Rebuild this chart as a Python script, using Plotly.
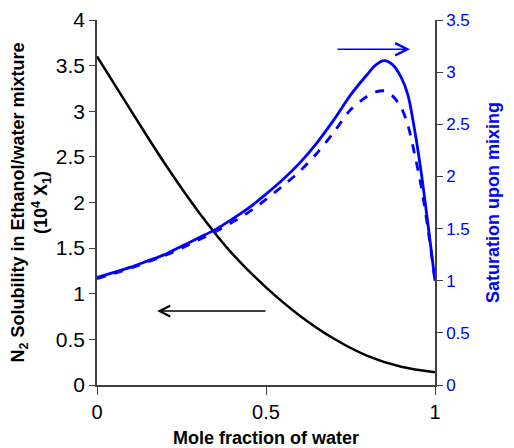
import plotly.graph_objects as go

# mole fraction of water
x_n2 = [0.0, 0.1, 0.2, 0.3, 0.4, 0.5, 0.6, 0.7, 0.8, 0.9, 1.0]
# N2 solubility (10^4 X1), left axis
n2_solubility = [3.60, 3.01, 2.43, 1.90, 1.44, 1.07, 0.76, 0.51, 0.32, 0.20, 0.14]

x_sat = [0.0, 0.05, 0.1, 0.15, 0.2, 0.25, 0.3, 0.35, 0.4, 0.45, 0.5, 0.55,
         0.6, 0.65, 0.7, 0.75, 0.8, 0.825, 0.85, 0.875, 0.9, 0.92, 0.94,
         0.96, 0.98, 1.0]
# saturation upon mixing, right axis
sat_solid = [1.03, 1.08, 1.13, 1.19, 1.25, 1.33, 1.41, 1.49, 1.59, 1.70,
             1.83, 1.97, 2.13, 2.32, 2.54, 2.78, 2.98, 3.07, 3.11, 3.07,
             2.95, 2.78, 2.44, 2.02, 1.52, 1.0]
sat_dashed = [1.02, 1.07, 1.12, 1.18, 1.24, 1.31, 1.39, 1.47, 1.56, 1.66,
              1.78, 1.91, 2.05, 2.22, 2.42, 2.64, 2.77, 2.81, 2.82, 2.77,
              2.66, 2.49, 2.21, 1.89, 1.48, 1.0]

BLUE = "#0000ff"
AXIS = "#404040"
FONT = "Liberation Sans, Arial, sans-serif"

fig = go.Figure()
fig.add_trace(go.Scatter(
    x=x_n2, y=n2_solubility, mode="lines",
    line=dict(color="black", width=2.5, shape="spline", smoothing=1.0),
))
fig.add_trace(go.Scatter(
    x=x_sat, y=sat_solid, mode="lines", yaxis="y2",
    line=dict(color=BLUE, width=2.8, shape="spline", smoothing=0.8),
))
fig.add_trace(go.Scatter(
    x=x_sat, y=sat_dashed, mode="lines", yaxis="y2",
    line=dict(color=BLUE, width=2.8, dash="dash", shape="spline", smoothing=0.8),
))

# direction arrows
fig.add_annotation(
    x=0.178, y=0.81, ax=0.503, ay=0.81, xref="x", yref="y", axref="x", ayref="y",
    text="", showarrow=True, arrowhead=5, arrowsize=1.4, arrowwidth=1.5,
    arrowcolor="black",
)
fig.add_annotation(
    x=0.926, y=3.22, ax=0.707, ay=3.22, xref="x", yref="y2", axref="x", ayref="y2",
    text="", showarrow=True, arrowhead=5, arrowsize=1.6, arrowwidth=1.5,
    arrowcolor=BLUE,
)

# the page body adds an 8 px offset, so the figure is 8 px smaller
fig.update_layout(
    width=506, height=440,
    margin=dict(l=89, r=79, t=12, b=63),
    paper_bgcolor="white", plot_bgcolor="white",
    showlegend=False,
    font=dict(family=FONT, size=17, color="black"),
    xaxis=dict(
        range=[0, 1], tickvals=[0, 0.5, 1], ticktext=["0", "0.5", "1"],
        showgrid=False, zeroline=False, showline=True, linecolor=AXIS,
        linewidth=1.5, ticks="outside", ticklen=8, tickcolor=AXIS,
        tickfont=dict(family=FONT, size=20, color="black"), automargin=False,
        title=dict(text="<b>Mole fraction of water</b>",
                   font=dict(size=18), standoff=14),
    ),
    yaxis=dict(
        range=[0, 4], dtick=0.5, showgrid=False, zeroline=False,
        showline=True, linecolor=AXIS, linewidth=1.5, ticks="outside",
        ticklen=6, tickcolor=AXIS, automargin=False,
        tickfont=dict(family=FONT, size=21, color="black"),
        title=dict(text="<b>N<sub>2</sub> Solubility in Ethanol/water mixture"
                        "<br>(10<sup>4</sup> X<sub>1</sub>)</b>",
                   font=dict(size=18), standoff=6),
    ),
    yaxis2=dict(
        range=[0, 3.5], dtick=0.5, overlaying="y", side="right",
        showgrid=False, zeroline=False, showline=True, linecolor=AXIS,
        linewidth=1.5, ticks="outside", ticklen=6, tickcolor=AXIS,
        tickfont=dict(family=FONT, size=17, color=BLUE), automargin=False,
        title=dict(text="<b>Saturation upon mixing</b>",
                   font=dict(size=18, color=BLUE), standoff=18),
    ),
)

fig.write_html("out.html")
